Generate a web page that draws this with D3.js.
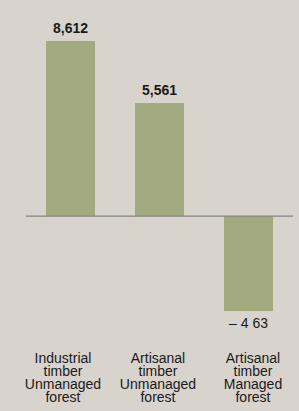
<!DOCTYPE html>
<html>
<head>
<meta charset="utf-8">
<script src="https://cdn.jsdelivr.net/npm/d3@7"></script>
<style>
  html, body { margin: 0; padding: 0; background: #d9d3cd; }
  svg { display: block; }
</style>
</head>
<body>
<svg id="chart"></svg>
<script>
const categories = ["Industrial timber Unmanaged forest", "Artisanal timber Unmanaged forest", "Artisanal timber Managed forest"];
const categoryLines = [
  ["Industrial", "timber", "Unmanaged", "forest"],
  ["Artisanal", "timber", "Unmanaged", "forest"],
  ["Artisanal", "timber", "Managed", "forest"]
];
const values = [8612, 5561, -4663];
const valueLabels = ["8,612", "5,561", "\u2013 4 63"];

const width = 299;
const height = 411;

const svg = d3.select("#chart").attr("width", width).attr("height", height);

const xScale = d3
  .scaleBand()
  .domain(categories)
  .range([26, 293])
  .paddingInner(40 / 89)
  .paddingOuter(20 / 89);

const yScale = d3
  .scaleLinear()
  .domain([d3.min(values), d3.max(values)])
  .range([311, 41]);

// bars
svg
  .append("g")
  .selectAll("rect")
  .data(values)
  .enter()
  .append("rect")
  .attr("x", (d, i) => xScale(categories[i]))
  .attr("y", (d) => yScale(Math.max(0, d)))
  .attr("width", xScale.bandwidth())
  .attr("height", (d) => Math.abs(yScale(d) - yScale(0)))
  .attr("fill", "#a3aa80");

// zero line
svg
  .append("line")
  .attr("x1", xScale.range()[0])
  .attr("x2", xScale.range()[1])
  .attr("y1", yScale(0))
  .attr("y2", yScale(0))
  .attr("stroke", "#858585")
  .attr("stroke-width", 1.2);

// value labels
svg
  .append("g")
  .selectAll("text")
  .data(values)
  .enter()
  .append("text")
  .attr("x", (d, i) => xScale(categories[i]) + xScale.bandwidth() / 2)
  .attr("y", (d) => (d >= 0 ? yScale(d) - 8 : yScale(d) + 17))
  .attr("text-anchor", "middle")
  .style("font-family", "'Liberation Sans', Arial, sans-serif")
  .style("font-size", "14px")
  .style("font-weight", (d) => (d >= 0 ? "bold" : "normal"))
  .style("fill", "#1a1a1a")
  .text((d, i) => valueLabels[i]);

// category labels, a bit off the bar centres as in the original
const labelX = d3.scalePoint().domain(categories).range([63, 253]);

const labels = svg
  .append("g")
  .selectAll("text")
  .data(categories)
  .enter()
  .append("text")
  .attr("x", (d) => labelX(d))
  .attr("y", 363)
  .attr("text-anchor", "middle")
  .style("font-family", "'Liberation Sans', Arial, sans-serif")
  .style("font-size", "14px")
  .style("fill", "#1a1a1a");

labels
  .selectAll("tspan")
  .data((d, i) => categoryLines[i])
  .enter()
  .append("tspan")
  .attr("x", function () {
    return d3.select(this.parentNode).attr("x");
  })
  .attr("dy", (d, i) => (i === 0 ? 0 : 13))
  .text((d) => d);
</script>
</body>
</html>
